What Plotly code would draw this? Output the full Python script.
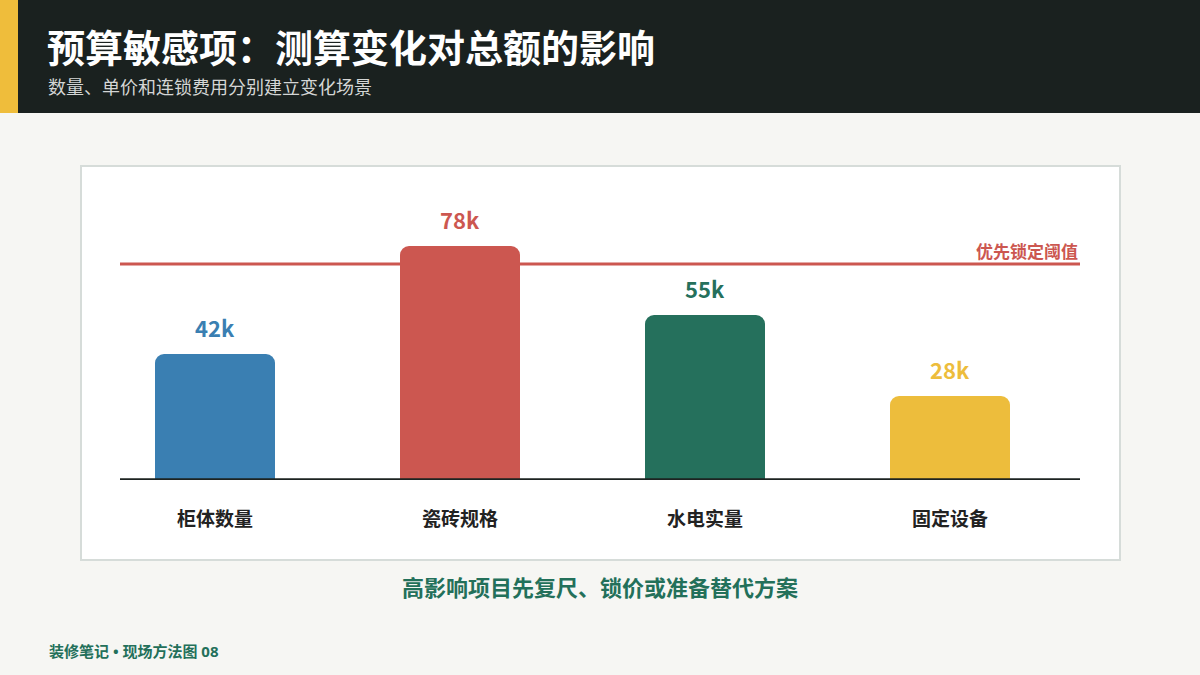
import plotly.graph_objects as go

categories = ["柜体数量", "瓷砖规格", "水电实量", "固定设备"]
values = [42, 78, 55, 28]
value_labels = ["42k", "78k", "55k", "28k"]
colors = ["#3a7fb2", "#cc5750", "#25705c", "#edbd3c"]
threshold = 72
threshold_label = "优先锁定阈值"

title = "预算敏感项：测算变化对总额的影响"
subtitle = "数量、单价和连锁费用分别建立变化场景"
note = "高影响项目先复尺、锁价或准备替代方案"
footer = "装修笔记 • 现场方法图 08"

FONT = "Noto Sans CJK SC"
FONT_MIX = "Noto Sans, Noto Sans CJK SC"

W, H = 1200, 675
L, T, PW, PH = 120, 180, 960, 300
STEP = 245.0  # px per category
X0 = -(215 - L) / STEP
X1 = X0 + PW / STEP


def fx(px):
    return (px - L) / PW


def fy(py):
    return (T + PH - py) / PH


fig = go.Figure()
fig.add_trace(go.Bar(
    x=list(range(len(categories))), y=values,
    marker=dict(color=colors, cornerradius=9, line=dict(width=0)),
    width=120 / STEP, hoverinfo="skip", showlegend=False,
))

for i, (v, lab, col) in enumerate(zip(values, value_labels, colors)):
    fig.add_annotation(x=i, y=v, xref="x", yref="y", text=f"<b>{lab}</b>", showarrow=False,
                       yanchor="middle", yshift=27, font=dict(family=FONT, size=22, color=col))
for i, c in enumerate(categories):
    fig.add_annotation(x=i, y=0, xref="x", yref="y", text=f"<b>{c}</b>", showarrow=False,
                       yanchor="middle", yshift=-37, font=dict(family=FONT, size=19, color="#222222"))

shapes = [
    dict(type="rect", xref="paper", yref="paper", x0=fx(0), x1=fx(W), y0=fy(113), y1=fy(0),
         fillcolor="#1a211f", line=dict(width=0), layer="below"),
    dict(type="rect", xref="paper", yref="paper", x0=fx(0), x1=fx(18), y0=fy(113), y1=fy(0),
         fillcolor="#efbd3b", line=dict(width=0), layer="below"),
    dict(type="rect", xref="paper", yref="paper", x0=fx(81), x1=fx(1120), y0=fy(560), y1=fy(166),
         fillcolor="white", line=dict(color="#d6dcd9", width=2), layer="below"),
    dict(type="line", xref="paper", yref="y", x0=0, x1=1, y0=threshold, y1=threshold,
         line=dict(color="#cc5750", width=3), layer="below"),
    dict(type="line", xref="paper", yref="y", x0=0, x1=1, y0=0, y1=0,
         line=dict(color="#1d2321", width=3.5), layer="above"),
]

fig.add_annotation(x=1, y=threshold, xref="paper", yref="y", text=f"<b>{threshold_label}</b>",
                   showarrow=False, xanchor="right", yanchor="middle", yshift=14,
                   font=dict(family=FONT, size=17, color="#cc5750"))

fig.add_annotation(x=fx(45), y=fy(45), xref="paper", yref="paper", xanchor="left", yanchor="middle",
                   text=f"<b>{title}</b>", showarrow=False, font=dict(family=FONT, size=38, color="white"))
fig.add_annotation(x=fx(46), y=fy(86.5), xref="paper", yref="paper", xanchor="left", yanchor="middle",
                   text=subtitle, showarrow=False, font=dict(family=FONT, size=18, color="#d4d6d5"))
fig.add_annotation(x=fx(600), y=fy(586), xref="paper", yref="paper", xanchor="center", yanchor="middle",
                   text=f"<b>{note}</b>", showarrow=False, font=dict(family=FONT, size=22, color="#23705a"))
fig.add_annotation(x=fx(47), y=fy(651), xref="paper", yref="paper", xanchor="left", yanchor="middle",
                   text=f"<b>{footer}</b>", showarrow=False, font=dict(family=FONT_MIX, size=15, color="#23705a"))

fig.update_layout(
    width=W, height=H,
    shapes=shapes,
    margin=dict(l=L, r=W - L - PW, t=T, b=H - T - PH, pad=0),
    paper_bgcolor="#f6f6f3", plot_bgcolor="rgba(0,0,0,0)",
    xaxis=dict(showticklabels=False, showgrid=False, zeroline=False, showline=False, ticks="",
               range=[X0, X1], fixedrange=True),
    yaxis=dict(range=[0, 100], showticklabels=False, showgrid=False, zeroline=False, showline=False,
               ticks="", fixedrange=True),
)

fig.write_html("out.html", config={"displayModeBar": False},
               post_script="document.body.style.margin='0';")
